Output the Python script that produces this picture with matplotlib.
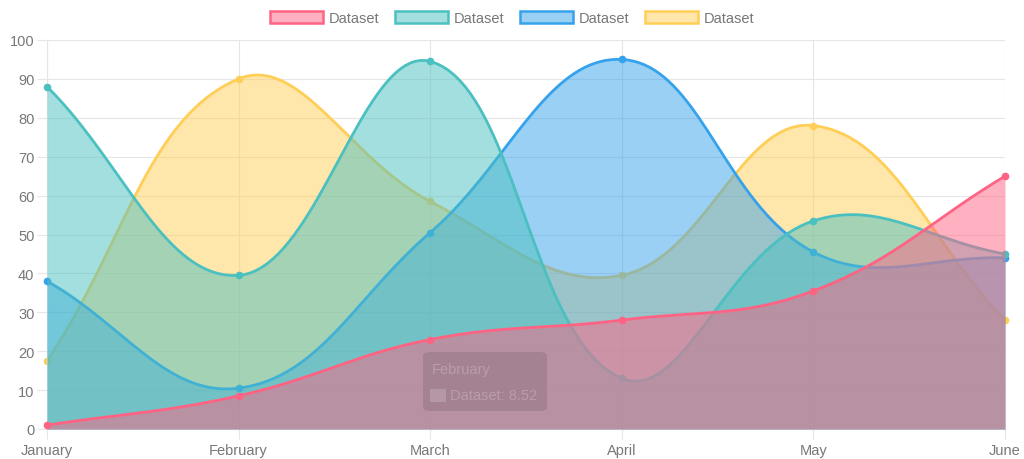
"""Smooth filled area chart — four overlapping datasets."""
import numpy as np
import matplotlib
matplotlib.use("Agg")
import matplotlib.pyplot as plt
from matplotlib.patches import Patch, FancyBboxPatch, Rectangle

# ── Data ──────────────────────────────────────────────────────────────────────
months = ["January", "February", "March", "April", "May", "June"]
red_vals    = [1, 8.52, 23, 28, 35.5, 65]
teal_vals   = [88, 39.5, 94.5, 13, 53.5, 45]
blue_vals   = [38, 10.5, 50.5, 95, 45.5, 44]
yellow_vals = [17.5, 90, 58.5, 39.5, 78, 28]
labels = ["Dataset", "Dataset", "Dataset", "Dataset"]

# ── Palette ───────────────────────────────────────────────────────────────────
RED    = (255 / 255, 99 / 255, 132 / 255)
TEAL   = (75 / 255, 192 / 255, 192 / 255)
BLUE   = (54 / 255, 162 / 255, 235 / 255)
YELLOW = (255 / 255, 206 / 255, 86 / 255)
TEXT   = "#777777"
GRID_C = "#e6e6e6"

W, H, DPI = 1024, 460, 100
LEFT, RIGHT, TOP, BOTTOM = 47, 1005, 41, 430   # plot area in px
FS = 10.5


def smooth(vals, tension=0.4, n=40):
    """Chart.js-style cubic bezier through the points (computed in px space)."""
    sx = (RIGHT - LEFT) / (len(vals) - 1)
    sy = (BOTTOM - TOP) / 100.0
    px = np.arange(len(vals)) * sx
    py = np.asarray(vals, float) * sy
    m = len(vals)
    cp_prev, cp_next = [], []
    for i in range(m):
        p0 = (px[max(i - 1, 0)], py[max(i - 1, 0)])
        p1 = (px[i], py[i])
        p2 = (px[min(i + 1, m - 1)], py[min(i + 1, m - 1)])
        d01 = np.hypot(p1[0] - p0[0], p1[1] - p0[1])
        d12 = np.hypot(p2[0] - p1[0], p2[1] - p1[1])
        tot = d01 + d12
        s01 = d01 / tot if tot else 0
        s12 = d12 / tot if tot else 0
        fa, fb = tension * s01, tension * s12
        cp_prev.append((p1[0] - fa * (p2[0] - p0[0]), p1[1] - fa * (p2[1] - p0[1])))
        cp_next.append((p1[0] + fb * (p2[0] - p0[0]), p1[1] + fb * (p2[1] - p0[1])))
    xs, ys = [], []
    t = np.linspace(0, 1, n)
    for i in range(m - 1):
        a = np.array([px[i], py[i]])
        b = np.array(cp_next[i])
        c = np.array(cp_prev[i + 1])
        d = np.array([px[i + 1], py[i + 1]])
        pts = ((1 - t) ** 3)[:, None] * a + (3 * (1 - t) ** 2 * t)[:, None] * b \
            + (3 * (1 - t) * t ** 2)[:, None] * c + (t ** 3)[:, None] * d
        xs.append(pts[:, 0] / sx)
        ys.append(pts[:, 1] / sy)
    return np.concatenate(xs), np.clip(np.concatenate(ys), 0, 100)


plt.rcParams["font.family"] = ["Liberation Sans", "DejaVu Sans"]

fig = plt.figure(figsize=(W / DPI, H / DPI), dpi=DPI, facecolor="white")
ax = fig.add_axes([LEFT / W, 1 - BOTTOM / H, (RIGHT - LEFT) / W, (BOTTOM - TOP) / H])

series = [(red_vals, RED), (teal_vals, TEAL), (blue_vals, BLUE), (yellow_vals, YELLOW)]
x = np.arange(len(months))

# Chart.js draws the last dataset first → first dataset ends up on top
for z, (vals, col) in enumerate(reversed(series)):
    xs, ys = smooth(vals)
    ax.fill_between(xs, 0, ys, color=col, alpha=0.5, linewidth=0, zorder=2 + z)
    ax.plot(xs, ys, color=col, linewidth=2.0, zorder=2 + z, solid_capstyle="round")
    ax.plot(x, vals, "o", color=col, markersize=4.5, zorder=2 + z, clip_on=False)

ax.set_xlim(0, len(months) - 1)
ax.set_ylim(0, 100)
ax.set_xticks(x)
ax.set_xticklabels(months)
ax.set_yticks(range(0, 101, 10))
ax.grid(True, color=GRID_C, linewidth=0.8, zorder=0)
ax.set_axisbelow(True)
for s in ax.spines.values():
    s.set_visible(False)
ax.spines["left"].set_visible(True)
ax.spines["left"].set_color(GRID_C)
ax.spines["bottom"].set_visible(True)
ax.spines["bottom"].set_color(GRID_C)
ax.tick_params(colors=GRID_C, labelcolor=TEXT, labelsize=FS, length=7, width=0.8)
ax.tick_params(axis="y", pad=2)
ax.tick_params(axis="x", pad=3)

# ── Faded tooltip ─────────────────────────────────────────────────────────────
tip = FancyBboxPatch((423 / W, 1 - 412 / H), 124 / W, 59 / H,
                     boxstyle="round,pad=0,rounding_size=0.008",
                     transform=fig.transFigure, facecolor="black", alpha=0.1,
                     edgecolor="none", zorder=20)
fig.patches.append(tip)
fig.text(432 / W, 1 - 370 / H, months[1], fontsize=FS,
         color="white", alpha=0.22, va="center", zorder=21)
fig.patches.append(Rectangle((430 / W, 1 - 403 / H), 16 / W, 13 / H,
                             transform=fig.transFigure, facecolor="white",
                             alpha=0.18, edgecolor="none", zorder=21))
fig.text(450 / W, 1 - 396 / H, f"{labels[0]}: {red_vals[1]}", fontsize=FS,
         color="white", alpha=0.22, va="center", zorder=21)

# ── Legend ────────────────────────────────────────────────────────────────────
handles = [Patch(facecolor=(*c, 0.5), edgecolor=c, linewidth=1.8) for _, c in series]
fig.legend(handles, labels, loc="center", bbox_to_anchor=(0.5, 1 - 19 / H),
           ncol=4, frameon=False, fontsize=FS, labelcolor=TEXT,
           handlelength=3.65, handleheight=0.9, handletextpad=0.35,
           columnspacing=1.1)

fig.savefig("out.png", dpi=DPI, facecolor="white")
